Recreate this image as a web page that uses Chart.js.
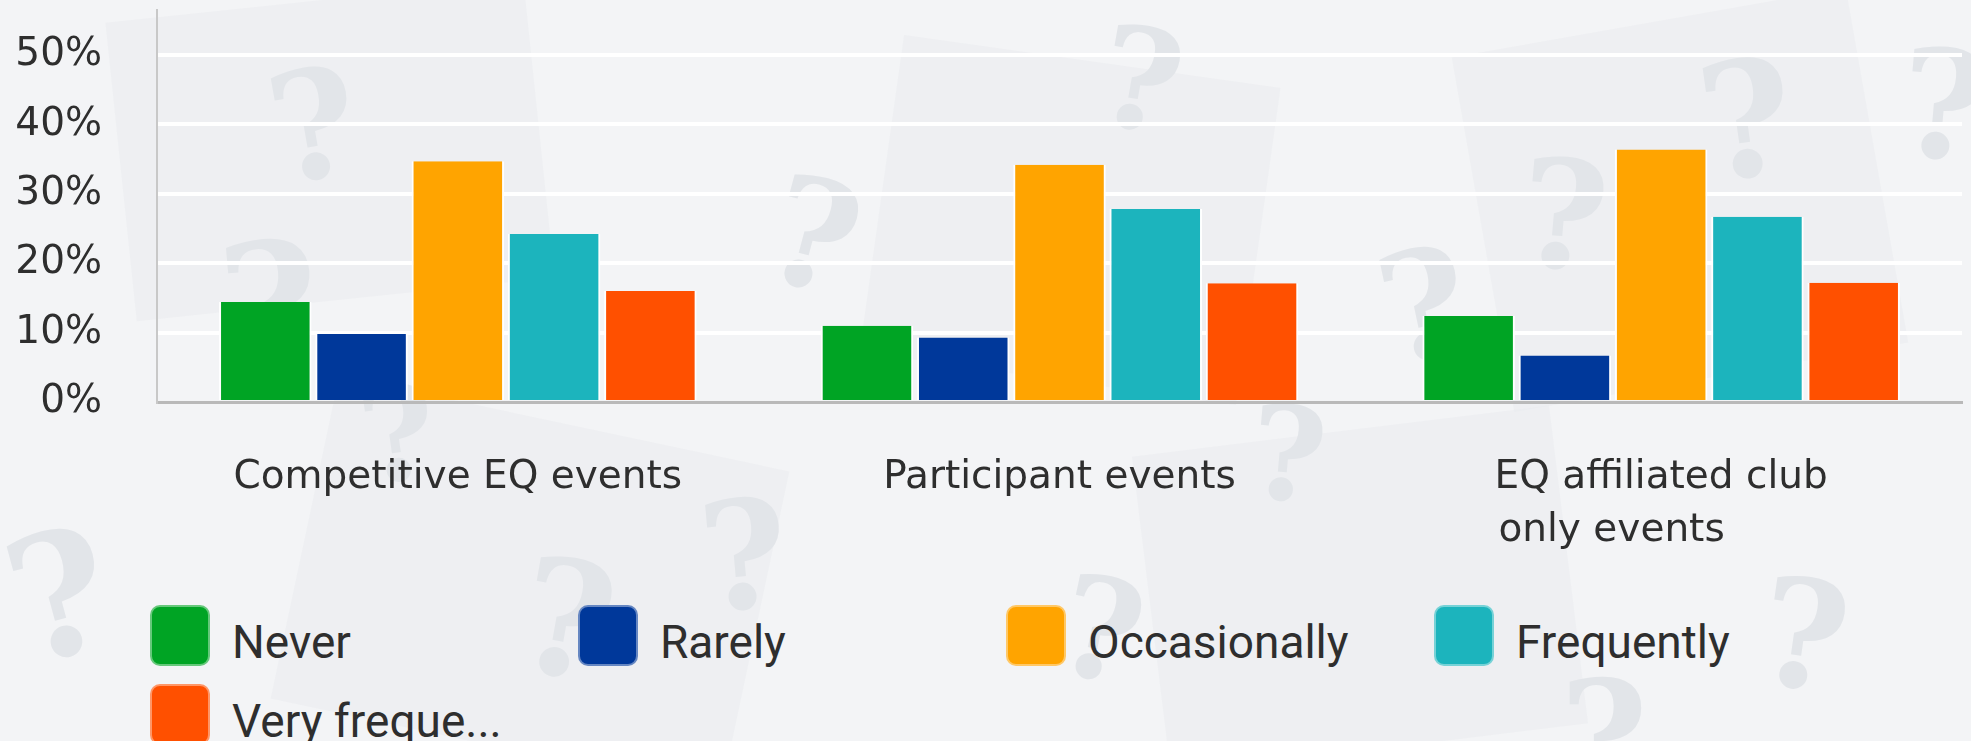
<!DOCTYPE html>
<html>
<head>
<meta charset="utf-8">
<script src="https://cdn.jsdelivr.net/npm/chart.js@4.4.1/dist/chart.umd.min.js"></script>
<style>
  html, body { margin: 0; padding: 0; width: 1971px; height: 741px; overflow: hidden; background: #f3f4f6; }
  #bg { position: absolute; left: 0; top: 0; width: 1971px; height: 741px; overflow: hidden; }
  #bg .card { position: absolute; background: #e9ebef; }
  #bg .q { position: absolute; font-family: "DejaVu Serif", serif; font-weight: bold; color: #e2e5e9; line-height: 1; }
  #wrap { position: absolute; left: 0; top: 0; width: 1971px; height: 590px; }
  #legend { position: absolute; left: 150px; top: 605px; width: 1800px; display: flex; flex-wrap: wrap;
            font-family: Roboto, sans-serif; font-size: 46px; color: #2e2e2e; }
  .item { width: 428px; height: 79px; display: flex; align-items: flex-start; }
  .box { width: 60px; height: 61px; border-radius: 10px; box-sizing: border-box; border: 2px solid rgba(255,255,255,0.4); }
  .txt { margin-left: 22px; line-height: 61px; padding-top: 7px; white-space: nowrap; }
</style>
</head>
<body>
<div id="bg" aria-hidden="true"></div>
<div id="wrap"><canvas id="chart" width="1971" height="590"></canvas></div>
<div id="legend"></div>
<script>
// data (percent)
const categories = ["Competitive EQ events", "Participant events", ["EQ affiliated club", "only events"]];
const seriesNames = ["Never", "Rarely", "Occasionally", "Frequently", "Very frequently"];
const never = [14.4, 11.0, 12.4];
const rarely = [9.8, 9.3, 6.7];
const occasionally = [34.7, 34.2, 36.4];
const frequently = [24.2, 27.8, 26.7];
const veryFrequently = [16.0, 17.1, 17.2];
const seriesColors = ["#00a424", "#00389a", "#ffa400", "#1cb4bd", "#ff5000"];
const yTicks = [0, 10, 20, 30, 40, 50];

// faint background question marks
const bgMarks = [[270,50,150,-10],[1100,10,140,10],[220,220,170,-5],[770,160,150,15],[1520,140,150,5],
  [1700,40,160,-8],[1380,230,150,-12],[1900,30,150,5],[10,510,170,-15],[520,540,160,10],
  [700,480,150,-5],[1760,560,150,8],[1560,660,150,0],[1060,560,140,12],[360,370,130,-8],[1250,390,130,5]];
const bg = document.getElementById("bg");
[[120,0,420,300,-6],[880,60,380,320,8],[1480,20,400,360,-10],[300,420,460,330,12],[1150,430,420,320,-7]].forEach(c => {
  const d = document.createElement("div");
  d.className = "card";
  d.style.cssText = `left:${c[0]}px;top:${c[1]}px;width:${c[2]}px;height:${c[3]}px;transform:rotate(${c[4]}deg);opacity:0.55`;
  bg.appendChild(d);
});
bgMarks.forEach(m => {
  const d = document.createElement("div");
  d.className = "q";
  d.textContent = "?";
  d.style.cssText = `left:${m[0]}px;top:${m[1]}px;font-size:${m[2]}px;transform:rotate(${m[3]}deg)`;
  bg.appendChild(d);
});

// make lines of a wrapped label start at the same x (pad shorter lines)
function padLines(label, font) {
  if (!Array.isArray(label)) return label;
  const ctx = document.createElement("canvas").getContext("2d");
  ctx.font = font;
  const widest = Math.max(...label.map(l => ctx.measureText(l).width));
  return label.map(l => {
    let s = l;
    while (ctx.measureText(s + " ").width <= widest + 1) s += " ";
    return s;
  });
}

const tickFont = { family: "DejaVu Sans", size: 39, lineHeight: 53 / 39 };
const values = [never, rarely, occasionally, frequently, veryFrequently];

const ctx = document.getElementById("chart").getContext("2d");
const chart = new Chart(ctx, {
  type: "bar",
  data: {
    labels: categories,
    datasets: seriesNames.map((name, i) => ({
      label: name,
      data: values[i],
      backgroundColor: seriesColors[i],
      borderColor: "#ffffff",
      borderWidth: { top: 0, left: 2, right: 2, bottom: 0 },
      categoryPercentage: 0.8,
      barPercentage: 0.961
    }))
  },
  options: {
    responsive: false,
    animation: false,
    layout: { padding: { top: 10, right: 9, left: 0, bottom: 0 } },
    plugins: { legend: { display: false }, tooltip: { enabled: false } },
    scales: {
      x: {
        grid: { display: false, drawTicks: false },
        border: { color: "#b9b9b9", width: 3 },
        ticks: {
          font: tickFont,
          color: "#2e2e2e",
          padding: 49,
          maxRotation: 0,
          autoSkip: false,
          callback: (v, i) => padLines(categories[i], "39px 'DejaVu Sans'")
        },
        afterFit: s => { s.height = 188; s.paddingLeft = 0; s.paddingRight = 0; }
      },
      y: {
        min: 0,
        max: 56.5,
        grid: { color: c => (c.tick && c.tick.value === 0 ? "rgba(0,0,0,0)" : "#ffffff"), lineWidth: 4, drawTicks: false },
        border: { color: "#c8c8c8", width: 2 },
        afterBuildTicks: s => { s.ticks = yTicks.map(v => ({ value: v })); },
        ticks: {
          font: tickFont,
          color: "#2e2e2e",
          padding: 55,
          callback: v => v + "%"
        },
        afterFit: s => { s.width = 157; s.paddingTop = 0; s.paddingBottom = 0; }
      }
    }
  }
});

// legend built from the chart's own legend items
const legend = document.getElementById("legend");
chart.options.plugins.legend.labels.generateLabels(chart).forEach(item => {
  const text = item.text.length > 12 ? item.text.slice(0, 11) + "..." : item.text;
  const el = document.createElement("div");
  el.className = "item";
  el.innerHTML = `<div class="box" style="background:${item.fillStyle}"></div><div class="txt">${text}</div>`;
  legend.appendChild(el);
});
</script>
</body>
</html>
